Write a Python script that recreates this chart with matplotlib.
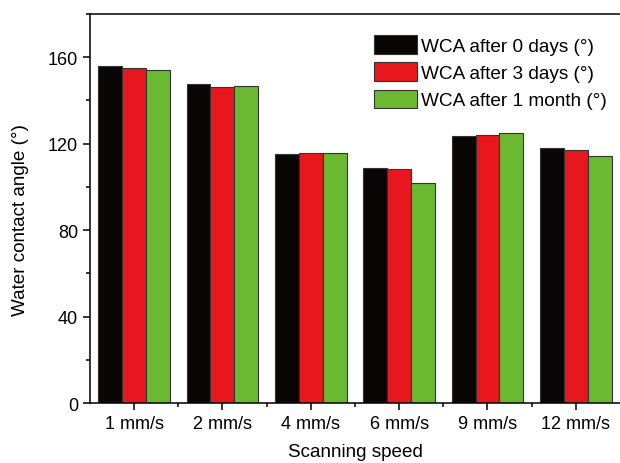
import matplotlib.pyplot as plt
import numpy as np
from matplotlib.ticker import MultipleLocator, FixedLocator

plt.rcParams['font.family'] = ['Liberation Sans', 'DejaVu Sans']

speeds = ['1 mm/s', '2 mm/s', '4 mm/s', '6 mm/s', '9 mm/s', '12 mm/s']
wca_0days = [156, 147.6, 115, 108.6, 123.5, 117.8]
wca_3days = [155, 146.4, 115.6, 108.1, 124.2, 116.9]
wca_1month = [154.2, 146.5, 115.6, 101.6, 124.8, 114.1]

series = [
    ('WCA after 0 days (°)', wca_0days, '#0a0606'),
    ('WCA after 3 days (°)', wca_3days, '#e8171e'),
    ('WCA after 1 month (°)', wca_1month, '#6ab931'),
]

fig = plt.figure(figsize=(6.2, 4.64), dpi=100)
ax = fig.add_axes([0.145, 0.129, 0.855, 0.839])

x = np.arange(1, len(speeds) + 1)
w = 0.27
for i, (label, vals, color) in enumerate(series):
    ax.bar(x + (i - 1) * w, vals, width=w, color=color, edgecolor='#333333',
           linewidth=0.8, label=label)

ax.set_xlim(0.5, 6.5)
ax.set_ylim(0, 180)
ax.set_xticks(x)
ax.set_xticklabels(speeds)
ax.xaxis.set_minor_locator(FixedLocator(np.arange(1.5, 6.5, 1)))
ax.set_yticks([0, 40, 80, 120, 160])
ax.yaxis.set_minor_locator(MultipleLocator(20))

ax.spines['right'].set_visible(False)
for s in ['left', 'top', 'bottom']:
    ax.spines[s].set_linewidth(1.1)
ax.tick_params(which='major', direction='out', length=5, width=1.1, labelsize=13)
ax.tick_params(which='minor', direction='out', length=3, width=1.1)

ax.set_xlabel('Scanning speed', fontsize=13.6, labelpad=8)
ax.set_ylabel('Water contact angle (°)', fontsize=13.6)
ax.yaxis.set_label_coords(-0.114, 0.473)

ax.legend(loc='upper right', frameon=False, fontsize=13.7, handlelength=2.26,
          handleheight=1.1, labelspacing=0.4, handletextpad=0.2,
          borderpad=0, borderaxespad=0, bbox_to_anchor=(0.975, 0.945))

fig.savefig('out.png', dpi=100)
